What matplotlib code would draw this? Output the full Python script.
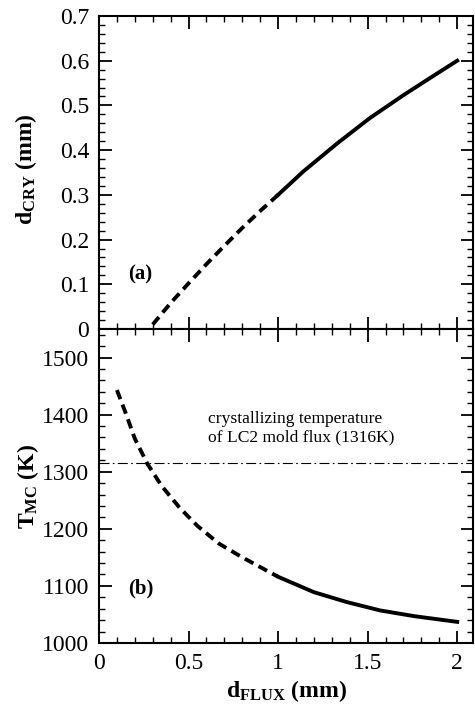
import matplotlib
matplotlib.use("Agg")
import matplotlib.pyplot as plt
from matplotlib.ticker import MultipleLocator

plt.rcParams['font.family'] = ['Liberation Serif', 'DejaVu Serif']
plt.rcParams['mathtext.fontset'] = 'custom'
plt.rcParams['mathtext.rm'] = 'Liberation Serif'
plt.rcParams['mathtext.bf'] = 'Liberation Serif:bold'

# (a) crystal layer thickness vs flux film thickness
d_flux_a_dash = [0.3, 0.4, 0.5, 0.6, 0.7, 0.8, 0.9, 1.0]
d_cry_dash = [0.01, 0.058, 0.102, 0.145, 0.186, 0.226, 0.264, 0.300]
d_flux_a_solid = [1.0, 1.14, 1.33, 1.51, 1.70, 1.89, 2.0]
d_cry_solid = [0.300, 0.352, 0.415, 0.471, 0.523, 0.572, 0.600]

# (b) mold/crystal interface temperature
d_flux_b_dash = [0.10, 0.15, 0.20, 0.27, 0.35, 0.45, 0.55, 0.67, 0.80, 0.90, 1.0]
t_mc_dash = [1443, 1402, 1358, 1314, 1275, 1237, 1205, 1174, 1150, 1133, 1116]
d_flux_b_solid = [1.0, 1.2, 1.38, 1.57, 1.76, 2.0]
t_mc_solid = [1116, 1089, 1072, 1057, 1047, 1037]

t_cryst = 1316

fig = plt.figure(figsize=(4.75, 7.09), dpi=100)
ax1 = fig.add_axes([0.2084, 0.536, 0.788, 0.4414])
ax2 = fig.add_axes([0.2084, 0.0931, 0.788, 0.4429], sharex=ax1)

ax1.plot(d_flux_a_dash, d_cry_dash, color='black', lw=2.8, dashes=(2.5, 1.5))
ax1.plot(d_flux_a_solid, d_cry_solid, color='black', lw=2.8)
ax2.plot(d_flux_b_dash, t_mc_dash, color='black', lw=2.8, dashes=(2.5, 1.5))
ax2.plot(d_flux_b_solid, t_mc_solid, color='black', lw=2.8)
ax2.axhline(t_cryst, color='black', lw=0.8, dashes=(9, 3, 1.5, 3))

ax1.set_xlim(0, 2.09)
ax1.set_ylim(0, 0.7)
ax2.set_ylim(1000, 1550)

ax1.xaxis.set_major_locator(MultipleLocator(0.5))
ax1.xaxis.set_minor_locator(MultipleLocator(0.1))
ax1.yaxis.set_major_locator(MultipleLocator(0.1))
ax1.yaxis.set_minor_locator(MultipleLocator(0.02))
ax2.yaxis.set_major_locator(MultipleLocator(100))
ax2.yaxis.set_minor_locator(MultipleLocator(20))

for ax in (ax1, ax2):
    ax.tick_params(which='both', direction='in', top=True, right=True, labelsize=17, pad=7)
    ax.tick_params(which='major', length=9, width=1.3)
    ax.tick_params(which='minor', length=4, width=1.0)
    for s in ax.spines.values():
        s.set_linewidth(1.5)
plt.setp(ax1.get_xticklabels(), visible=False)
ax1.set_yticks([0, 0.1, 0.2, 0.3, 0.4, 0.5, 0.6, 0.7])
ax1.set_yticklabels(['0', '0.1', '0.2', '0.3', '0.4', '0.5', '0.6', '0.7'])
ax2.set_yticks([1000, 1100, 1200, 1300, 1400, 1500])
ax2.set_xticks([0, 0.5, 1, 1.5, 2])
ax2.set_xticklabels(['0', '0.5', '1', '1.5', '2'])

ax1.set_ylabel(r'$\mathbf{d_{CRY}}$ (mm)', fontsize=17, fontweight='bold')
ax2.set_ylabel(r'$\mathbf{T_{MC}}$ (K)', fontsize=17, fontweight='bold')
ax1.yaxis.set_label_coords(-0.16, 0.51)
ax2.yaxis.set_label_coords(-0.155, 0.5)
ax2.set_xlabel(r'$\mathbf{d_{FLUX}}$ (mm)', fontsize=17, fontweight='bold', labelpad=3)

ax1.text(0.16, 0.123, '(a)', fontsize=15, fontweight='bold', va='center')
ax2.text(0.16, 1096, '(b)', fontsize=15, fontweight='bold', va='center')
ax2.text(0.61, 1353, 'crystallizing temperature\nof LC2 mold flux (1316K)',
         fontsize=12.6, va='baseline', linespacing=1.2)

fig.savefig('out.png', dpi=100)
